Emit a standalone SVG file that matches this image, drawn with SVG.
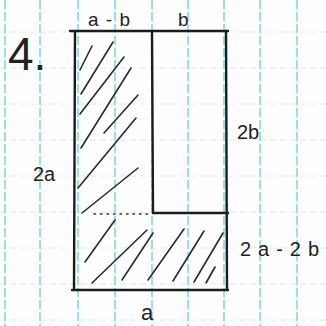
<svg xmlns="http://www.w3.org/2000/svg" width="326" height="326" viewBox="0 0 326 326">
  <style>
    .grid-v { stroke: #6fd3da; stroke-width: 1.4; stroke-dasharray: 9 3; }
    .grid-h { stroke: #e6e6e6; stroke-width: 1; stroke-dasharray: 6 4; }
    .edge { stroke: #1c1c1c; stroke-width: 2.4; fill: none; stroke-linecap: round; }
    .hatch { stroke: #2a2a2a; stroke-width: 1.6; fill: none; stroke-linecap: round; }
    .dots { stroke: #333; stroke-width: 1.6; stroke-dasharray: 1.5 5; stroke-linecap: round; }
    .lbl { font-family: "Liberation Sans", "Open Sans", sans-serif; fill: #222; }
  </style>
  <rect width="326" height="326" fill="#fdfdfd"/>
  <g id="paper-grid">
    <line class="grid-h" x1="0" y1="32" x2="326" y2="32"/>
    <line class="grid-h" x1="0" y1="68" x2="326" y2="68"/>
    <line class="grid-h" x1="0" y1="104" x2="326" y2="104"/>
    <line class="grid-h" x1="0" y1="140" x2="326" y2="140"/>
    <line class="grid-h" x1="0" y1="176" x2="326" y2="176"/>
    <line class="grid-h" x1="0" y1="212" x2="326" y2="212"/>
    <line class="grid-h" x1="0" y1="248" x2="326" y2="248"/>
    <line class="grid-h" x1="0" y1="284" x2="326" y2="284"/>
    <line class="grid-h" x1="0" y1="320" x2="326" y2="320"/>
    <line class="grid-v" x1="5" y1="0" x2="5" y2="326"/>
    <line class="grid-v" x1="40" y1="0" x2="40" y2="326"/>
    <line class="grid-v" x1="78" y1="0" x2="78" y2="326"/>
    <line class="grid-v" x1="115" y1="0" x2="115" y2="326"/>
    <line class="grid-v" x1="152" y1="0" x2="152" y2="326"/>
    <line class="grid-v" x1="188" y1="0" x2="188" y2="326"/>
    <line class="grid-v" x1="224" y1="0" x2="224" y2="326"/>
    <line class="grid-v" x1="260" y1="0" x2="260" y2="326"/>
    <line class="grid-v" x1="297" y1="0" x2="297" y2="326"/>
  </g>
  <g id="hatching">
    <line class="hatch" x1="80" y1="70" x2="92" y2="46"/>
    <line class="hatch" x1="81" y1="94" x2="113" y2="42"/>
    <line class="hatch" x1="80" y1="114" x2="124" y2="57"/>
    <line class="hatch" x1="81" y1="148" x2="131" y2="68"/>
    <line class="hatch" x1="104" y1="133" x2="138" y2="95"/>
    <line class="hatch" x1="78" y1="188" x2="136" y2="118"/>
    <line class="hatch" x1="82" y1="213" x2="138" y2="168"/>
    <line class="hatch" x1="85" y1="262" x2="115" y2="220"/>
    <line class="hatch" x1="92" y1="283" x2="147" y2="230"/>
    <line class="hatch" x1="122" y1="280" x2="153" y2="233"/>
    <line class="hatch" x1="148" y1="280" x2="184" y2="229"/>
    <line class="hatch" x1="173" y1="281" x2="204" y2="231"/>
    <line class="hatch" x1="194" y1="282" x2="223" y2="233"/>
    <line class="hatch" x1="206" y1="283" x2="215" y2="267"/>
  </g>
  <g id="shape">
    <path class="edge" d="M70 31 L228 31"/>
    <path class="edge" d="M75 31 L74 290"/>
    <path class="edge" d="M226 31 L227 290"/>
    <path class="edge" d="M72 290 L228 290"/>
    <path class="edge" d="M152 31 L153 213"/>
    <path class="edge" d="M153 213 L228 213"/>
    <line class="dots" x1="94" y1="214" x2="150" y2="214"/>
  </g>
  <g id="labels">
    <text class="lbl" x="8" y="70" font-size="46">4.</text>
    <text class="lbl" x="88" y="26" font-size="19" textLength="42" lengthAdjust="spacing">a-b</text>
    <text class="lbl" x="178" y="26" font-size="19">b</text>
    <text class="lbl" x="237" y="139" font-size="20">2b</text>
    <text class="lbl" x="33" y="181" font-size="20">2a</text>
    <text class="lbl" x="240" y="256" font-size="20" textLength="79" lengthAdjust="spacing">2a-2b</text>
    <text class="lbl" x="141" y="320" font-size="22">a</text>
  </g>
</svg>
